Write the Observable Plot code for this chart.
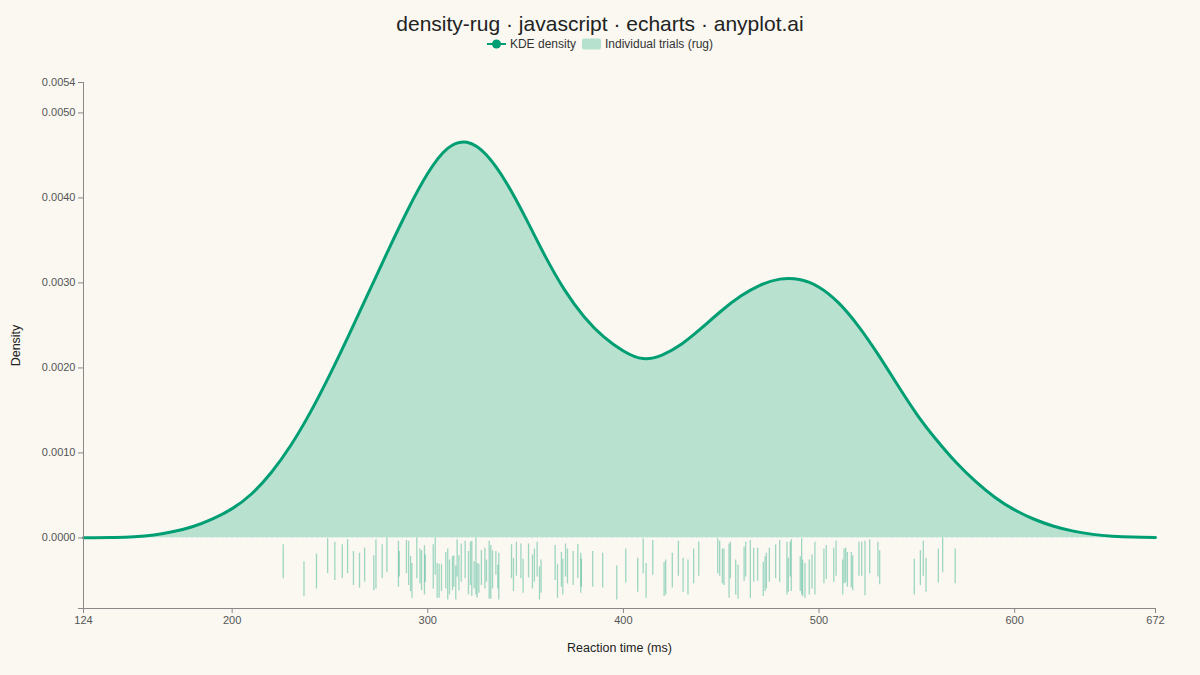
<!DOCTYPE html>
<html><head><meta charset="utf-8">
<script src="https://cdn.jsdelivr.net/npm/d3@7"></script>
<script src="https://cdn.jsdelivr.net/npm/@observablehq/plot@0.6"></script>
<style>
html,body{margin:0;padding:0;background:#FAF8F1;}
body{width:1200px;height:675px;overflow:hidden;font-family:"Liberation Sans",Arial,sans-serif;}
#header{position:relative;height:58px;}
#title{position:absolute;left:0;right:0;top:9px;text-align:center;font-size:21px;line-height:30px;color:#222;}
#legend{position:absolute;left:0;right:0;top:36px;display:flex;justify-content:center;align-items:center;font-size:12px;line-height:16px;color:#333;}
#legend .item{display:flex;align-items:center;margin:0 3px;}
#legend svg{margin-right:4px;}
#chart svg [aria-label="y-axis tick"], #chart svg [aria-label="x-axis tick"]{stroke:#888;}
</style></head>
<body>
<div id="header">
  <div id="title">density-rug · javascript · echarts · anyplot.ai</div>
  <div id="legend">
    <div class="item"><svg width="19" height="12"><line x1="0" x2="19" y1="6" y2="6" stroke="#009E73" stroke-width="2"/><circle cx="9.5" cy="6" r="4.5" fill="#009E73"/></svg>KDE density</div>
    <div class="item"><svg width="19" height="12"><rect x="0" y="0.5" width="19" height="11" rx="2" fill="#B7E1CF"/></svg>Individual trials (rug)</div>
  </div>
</div>
<div id="chart"></div>
<script>
// KDE density curve (reaction time in ms, density x 1e-6)
const kdeX = [124,130,140,150,160,170,180,190,200,210,220,230,240,250,260,270,280,290,300,310,320,330,340,350,360,370,380,390,400,410,420,430,440,450,460,470,480,490,500,510,520,530,540,550,560,570,580,590,600,610,620,630,640,650,660,672];
const kdeY = [1,2,5,14,35,75,135,225,345,520,770,1090,1480,1925,2405,2900,3395,3870,4290,4580,4655,4505,4185,3765,3315,2915,2600,2365,2200,2110,2155,2285,2470,2670,2845,2975,3045,3040,2950,2765,2495,2165,1805,1455,1155,890,665,476,330,220,138,80,42,21,10,5];
const kdeUnit = 1e-6;

// Individual trials (rug): reaction time, jittered rug start / end (density x 1e-5, below zero)
const rugX = [226.1,236.7,243.1,248.8,252.5,256.3,259.0,262.0,265.1,267.7,272.4,273.5,276.7,279.1,285.0,285.4,289.1,290.2,291.2,291.9,294.4,296.0,296.8,298.3,298.7,302.8,303.8,304.8,305.8,307.0,309.2,310.2,311.1,312.6,313.3,314.3,315.0,315.9,317.1,319.1,320.8,321.8,322.5,323.7,324.6,325.2,326.1,327.4,329.2,330.0,331.4,332.2,333.1,334.8,335.8,336.3,
  342.8,343.8,345.3,347.6,348.7,351.5,353.5,354.5,355.9,357.1,357.9,365.1,366.3,368.3,369.0,370.4,371.4,374.3,376.7,378.2,378.5,384.3,389.4,396.6,401.2,407.3,410.1,411.6,415.0,420.8,421.6,425.0,428.1,430.5,433.0,435.9,438.5,448.2,449.2,450.6,451.4,
  454.0,454.7,457.4,458.6,461.7,462.5,464.9,466.6,468.6,471.5,472.4,473.1,474.6,477.8,479.9,483.6,484.3,485.3,485.8,490.4,491.1,491.6,492.8,495.0,496.4,497.9,502.5,503.7,507.5,508.7,512.1,512.8,513.6,514.5,516.5,517.2,520.4,521.8,523.5,525.9,530.1,531.0,548.7,551.8,553.3,554.7,561.0,563.2,569.6];
const rugStart = [8,28,19,1,5,8,2,16,18,12,21,2,8,0,4,16,3,4,22,30,0,13,15,9,20,8,0,30,31,31,17,13,26,22,21,33,2,21,7,4,16,5,4,28,0,30,31,15,12,26,4,9,15,16,32,18,
  8,24,5,7,25,7,20,13,5,34,26,9,31,17,25,7,13,16,8,18,25,16,18,33,13,24,1,30,3,29,26,18,4,24,26,13,5,1,4,13,13,
  7,5,26,32,11,5,3,12,12,29,22,18,12,8,3,5,24,5,2,22,1,26,30,26,20,5,13,9,12,4,26,13,12,17,17,21,5,5,4,2,5,15,25,15,4,24,13,0,13];
const rugEnd = [48,69,60,42,50,48,42,56,59,52,62,60,48,41,58,46,42,56,63,71,48,54,62,67,52,60,44,71,71,63,60,73,67,62,58,73,46,62,52,48,67,56,69,60,67,71,65,56,60,52,72,72,60,44,60,73,
  48,63,45,48,65,47,60,52,46,73,65,50,71,58,67,46,54,56,48,65,58,58,59,73,53,64,42,71,44,69,67,59,45,64,67,54,45,42,45,54,56,
  71,48,67,72,51,46,71,52,51,69,63,60,52,48,52,67,64,46,63,63,67,69,71,67,60,67,54,49,52,45,67,54,53,58,59,62,45,45,68,42,46,55,67,56,45,64,53,41,54];
const rugUnit = 1e-5;

// axes
const xDomain = [124, 672];
const yDomain = [-0.00083, 0.005358];
const xTicks = [124, 200, 300, 400, 500, 600, 672];
const yTicks = [-0.00083, 0, 0.001, 0.002, 0.003, 0.004, 0.005, 0.005358];

const kde = kdeX.map((x, i) => ({x, d: kdeY[i] * kdeUnit}));
const rug = rugX.map((x, i) => ({x, top: -rugStart[i] * rugUnit, bottom: -rugEnd[i] * rugUnit}));

const green = "#009E73";
const chart = Plot.plot({
  width: 1200,
  height: 617,
  marginLeft: 83,
  marginRight: 45,
  marginTop: 24,
  marginBottom: 67,
  style: {background: "transparent", fontFamily: "'Liberation Sans', Arial, sans-serif", fontSize: "11px", color: "#555"},
  x: {domain: xDomain},
  y: {domain: yDomain},
  marks: [
    Plot.areaY(kde, {x: "x", y: "d", fill: green, fillOpacity: 0.26, curve: "natural"}),
    Plot.ruleY([0], {stroke: "#ffffff", strokeOpacity: 0.6, strokeDasharray: "3,2"}),
    Plot.ruleX(rug, {x: "x", y1: "top", y2: "bottom", stroke: green, strokeOpacity: 0.37, strokeWidth: 1.3}),
    Plot.lineY(kde, {x: "x", y: "d", stroke: green, strokeWidth: 3, curve: "natural"}),
    Plot.ruleX([xDomain[0]], {stroke: "#888"}),
    Plot.ruleY([yDomain[0]], {stroke: "#888"}),
    Plot.axisX({ticks: xTicks, tickFormat: d => String(d), tickSize: 5, tickPadding: 3, fill: "#555",
      label: "Reaction time (ms)", labelAnchor: "center", labelArrow: "none", labelOffset: 43}),
    Plot.axisY({ticks: yTicks, tickFormat: d => d === yDomain[0] ? "" : d.toFixed(4), tickSize: 5, tickPadding: 3, fill: "#555",
      label: "Density", labelAnchor: "center", labelArrow: "none", labelOffset: 72})
  ]
});
document.getElementById("chart").append(chart);
chart.querySelectorAll('[aria-label="x-axis label"] text, [aria-label="y-axis label"] text').forEach(t => {
  t.setAttribute("font-size", "12.5"); t.setAttribute("fill", "#222");
});
</script>
</body></html>
